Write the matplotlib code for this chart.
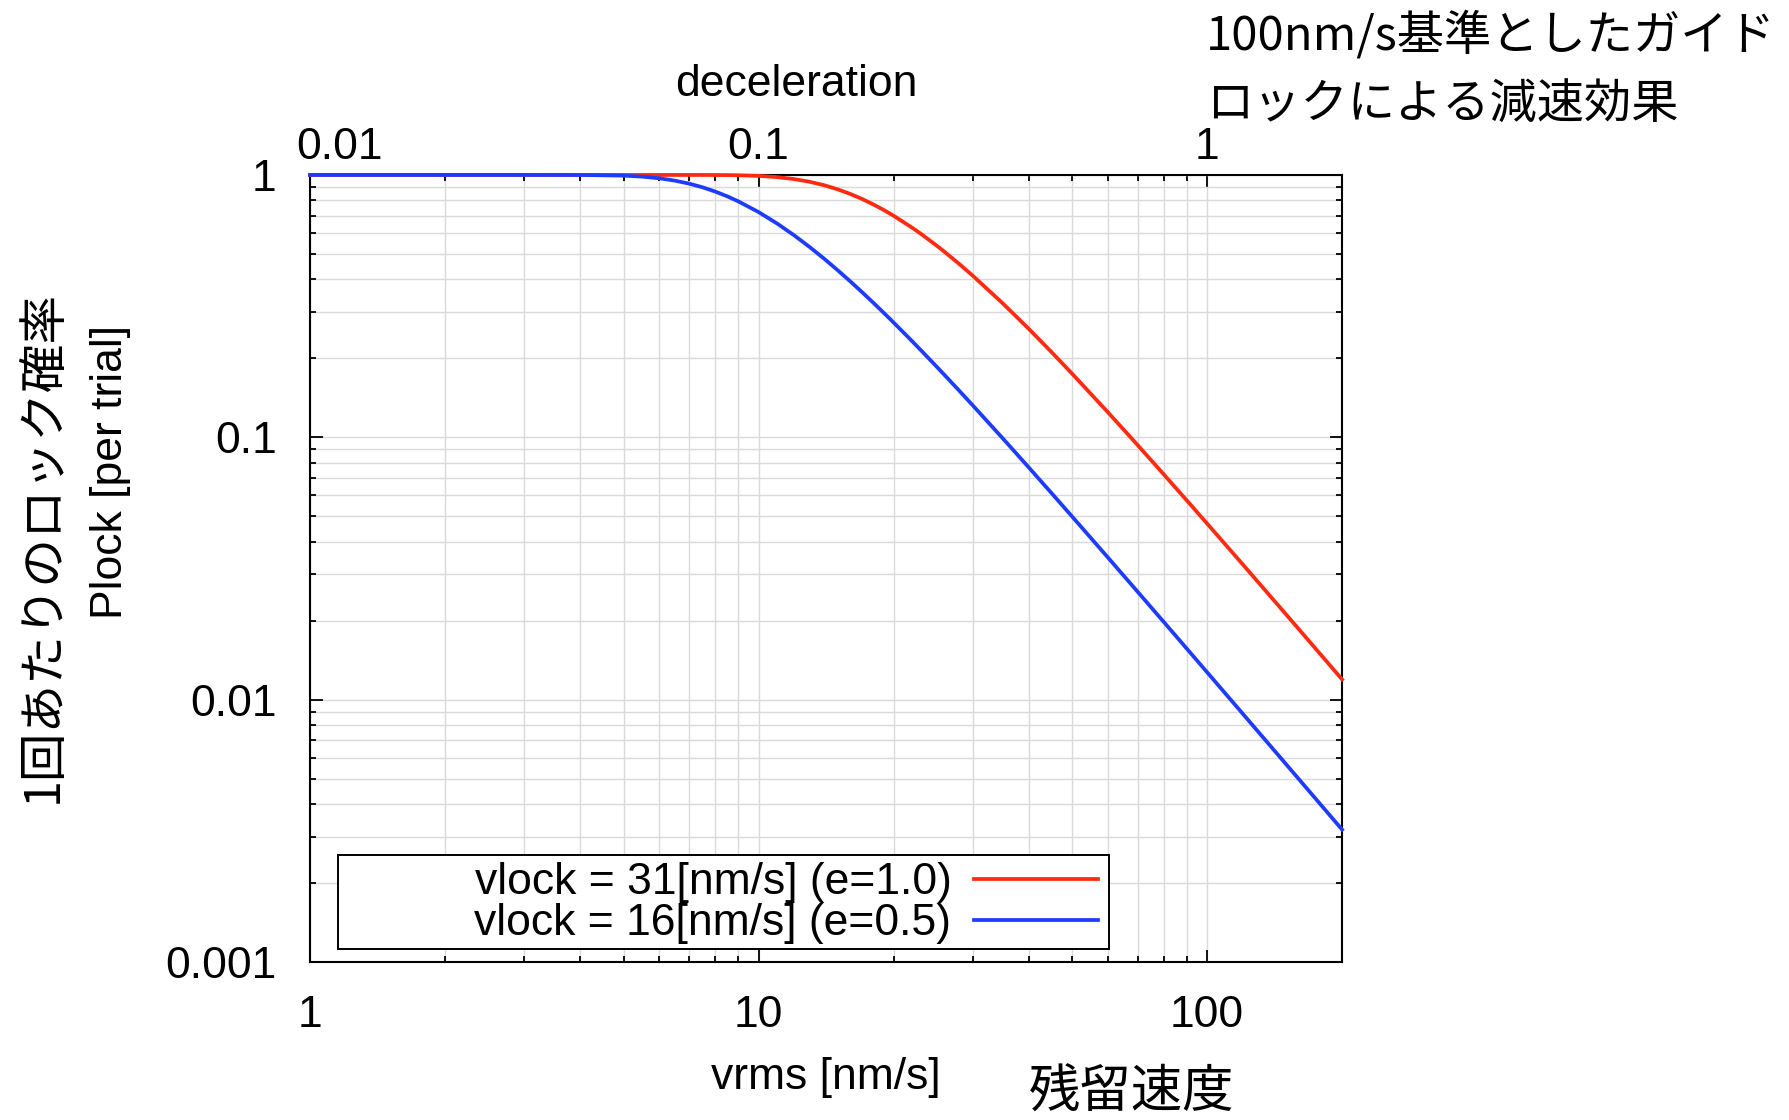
import matplotlib
matplotlib.use("Agg")
import matplotlib.pyplot as plt
from matplotlib.patches import Rectangle
from matplotlib.ticker import LogLocator, NullFormatter, FixedLocator, FixedFormatter
from matplotlib.transforms import ScaledTranslation

plt.rcParams['font.family'] = ['Liberation Sans', 'DejaVu Sans']
JP = ['Noto Sans CJK JP', 'DejaVu Sans']

# ---- データ ----
vrms = [1, 2, 3, 4, 5, 5.5, 6, 6.5, 7, 7.5,
        8, 8.5, 9, 10, 11, 12, 13, 14, 15, 16,
        17, 18, 19, 20, 22, 23, 25, 26, 28, 30,
        35, 40, 45, 50, 60, 70, 80, 90, 100, 120,
        140, 170, 200]

# vlock = 31 nm/s (e=1.0)
plock_31 = [1.0, 1.0, 1.0, 1.0, 1.0, 1.0, 1.0, 0.99999, 0.99994, 0.99981,
            0.99945, 0.99871, 0.99735, 0.99181, 0.98115, 0.96446, 0.94175, 0.91388, 0.88183, 0.84694,
            0.81035, 0.77305, 0.73579, 0.69918, 0.62945, 0.59680, 0.53643, 0.50875, 0.45821, 0.41368,
            0.32446, 0.25941, 0.21122, 0.17485, 0.12495, 0.09341, 0.07233, 0.05760, 0.04691, 0.03282,
            0.024217, 0.016488, 0.011940]

# vlock = 16 nm/s (e=0.5)
plock_16 = [1.0, 1.0, 1.0, 0.99966, 0.99402, 0.98547, 0.97144, 0.95167, 0.92663, 0.89726,
            0.86466, 0.82994, 0.79408, 0.72196, 0.65280, 0.58889, 0.53111, 0.47955, 0.43384, 0.39347,
            0.35783, 0.32636, 0.29853, 0.27385, 0.23238, 0.21491, 0.18519, 0.17250, 0.15064, 0.13257,
            0.09922, 0.07688, 0.06125, 0.04991, 0.034931, 0.025784, 0.019801, 0.015678, 0.012718, 0.0088494,
            0.0065093, 0.0044193, 0.0031949]

labels = ["vlock = 31[nm/s] (e=1.0)", "vlock = 16[nm/s] (e=0.5)"]
colors = ["#ff2a10", "#1e3cff"]

x_ticks = [1, 10, 100]
y_ticks = [0.001, 0.01, 0.1, 1]
y_ticklabels = ["0.001", "0.01", "0.1", "1"]
top_ticks = [0.01, 0.1, 1]
top_ticklabels = ["0.01", "0.1", "1"]

# ---- 描画 ----
fig = plt.figure(figsize=(17.89, 11.2), dpi=100)
ax = fig.add_axes([0.1733, 0.1411, 0.5769, 0.7027])

ax.plot(vrms, plock_31, color=colors[0], lw=2.7, label=labels[0], zorder=3, clip_on=False)
ax.plot(vrms, plock_16, color=colors[1], lw=2.7, label=labels[1], zorder=3, clip_on=False)

ax.set_xscale("log")
ax.set_yscale("log")
ax.set_xlim(1, 200)
ax.set_ylim(0.001, 1)

ax.xaxis.set_major_locator(FixedLocator(x_ticks))
ax.xaxis.set_major_formatter(FixedFormatter([str(t) for t in x_ticks]))
ax.xaxis.set_minor_locator(LogLocator(base=10, subs=range(2, 10)))
ax.xaxis.set_minor_formatter(NullFormatter())
ax.yaxis.set_major_locator(FixedLocator(y_ticks))
ax.yaxis.set_major_formatter(FixedFormatter(y_ticklabels))
ax.yaxis.set_minor_locator(LogLocator(base=10, subs=range(2, 10)))
ax.yaxis.set_minor_formatter(NullFormatter())

ax.grid(True, which="both", color="#dadada", lw=1.0, zorder=0)
ax.set_axisbelow(True)
ax.tick_params(which="both", direction="in", top=True, right=True, width=1.3)
ax.tick_params(which="major", length=9, labelsize=32, pad=24)
ax.tick_params(which="minor", length=4.5)
for sp in ax.spines.values():
    sp.set_linewidth(1.5)

# 上軸 (deceleration = vrms / 100)
sec = ax.secondary_xaxis("top", functions=(lambda v: v / 100.0, lambda d: d * 100.0))
sec.xaxis.set_major_locator(FixedLocator(top_ticks))
sec.xaxis.set_major_formatter(FixedFormatter(top_ticklabels))
sec.xaxis.set_minor_locator(FixedLocator([]))
sec.tick_params(which="both", length=0, labelsize=32, pad=5)
sec.spines["top"].set_visible(False)
fig.canvas.draw()
first = sec.xaxis.get_majorticklabels()[0]
first.set_transform(first.get_transform() + ScaledTranslation(0.29, 0, fig.dpi_scale_trans))

# 凡例 (gnuplot風: 文字が左, 線が右)
ax.add_patch(Rectangle((0.0271, 0.0165), 0.7471, 0.1195, transform=ax.transAxes,
                       facecolor="white", edgecolor="black", lw=1.4, zorder=4))
leg = ax.legend(loc="center right", bbox_to_anchor=(0.7636, 0.0743), frameon=False,
                markerfirst=False, fontsize=32, handlelength=2.8, handletextpad=0.5,
                labelspacing=0.0, borderpad=0, borderaxespad=0)
leg.set_zorder(5)

# 軸ラベル
fig.text(0.4449, 0.925, "deceleration", ha="center", va="center", fontsize=32)
fig.text(0.4617, 0.0375, "vrms [nm/s]", ha="center", va="center", fontsize=32)
fig.text(0.062, 0.5786, "Plock [per trial]", rotation=90, ha="center", va="center", fontsize=32)

# 日本語注釈
fig.text(0.024, 0.5117, "1回あたりのロック確率", rotation=90, ha="center", va="center",
         fontsize=35, family=JP)
fig.text(0.6328, 0.024, "残留速度", ha="center", va="center", fontsize=37, family=JP)
fig.text(0.6741, 0.9679, "100nm/s基準としたガイド", ha="left", va="center", fontsize=34, family=JP)
fig.text(0.6741, 0.9063, "ロックによる減速効果", ha="left", va="center", fontsize=34, family=JP)

fig.savefig("out.png", dpi=100)
